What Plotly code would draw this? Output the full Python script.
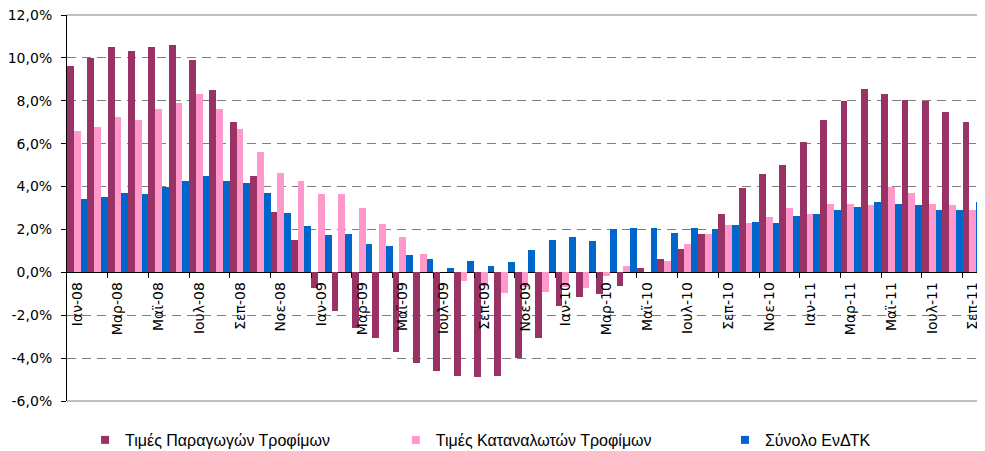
import plotly.graph_objects as go

months = [
    "Ιαν-08", "Φεβ-08", "Μαρ-08", "Απρ-08", "Μαϊ-08", "Ιουν-08", "Ιουλ-08", "Αυγ-08", "Σεπ-08", "Οκτ-08", "Νοε-08", "Δεκ-08",
    "Ιαν-09", "Φεβ-09", "Μαρ-09", "Απρ-09", "Μαϊ-09", "Ιουν-09", "Ιουλ-09", "Αυγ-09", "Σεπ-09", "Οκτ-09", "Νοε-09", "Δεκ-09",
    "Ιαν-10", "Φεβ-10", "Μαρ-10", "Απρ-10", "Μαϊ-10", "Ιουν-10", "Ιουλ-10", "Αυγ-10", "Σεπ-10", "Οκτ-10", "Νοε-10", "Δεκ-10",
    "Ιαν-11", "Φεβ-11", "Μαρ-11", "Απρ-11", "Μαϊ-11", "Ιουν-11", "Ιουλ-11", "Αυγ-11", "Σεπ-11",
]

producer = [
    9.6, 10.0, 10.5, 10.3, 10.5, 10.6, 9.9, 8.5, 7.0, 4.5, 2.8, 1.5,
    -0.75, -1.8, -2.6, -3.05, -3.7, -4.25, -4.6, -4.85, -4.9, -4.85, -4.0, -3.05,
    -1.55, -1.17, -1.0, -0.66, 0.22, 0.64, 1.1, 1.8, 2.7, 3.95, 4.6, 5.0,
    6.1, 7.1, 8.0, 8.55, 8.3, 8.05, 8.0, 7.5, 7.0,
]

consumer = [
    6.6, 6.8, 7.25, 7.1, 7.6, 7.9, 8.3, 7.6, 6.7, 5.6, 4.65, 4.25,
    3.65, 3.65, 3.0, 2.25, 1.65, 0.85, 0.0, -0.42, -0.62, -0.98, -0.7, -0.94,
    -0.7, -0.72, -0.15, 0.31, 0.0, 0.55, 1.34, 1.8, 2.2, 2.28, 2.6, 2.98,
    2.7, 3.2, 3.2, 3.12, 3.96, 3.72, 3.2, 3.12, 2.93,
]

cpi_total = [
    3.4, 3.5, 3.72, 3.63, 3.96, 4.24, 4.47, 4.24, 4.15, 3.68, 2.79, 2.18,
    1.76, 1.81, 1.34, 1.25, 0.83, 0.64, 0.22, 0.55, 0.31, 0.50, 1.06, 1.53,
    1.67, 1.48, 2.04, 2.09, 2.09, 1.85, 2.09, 2.04, 2.23, 2.37, 2.28, 2.65,
    2.70, 2.93, 3.07, 3.26, 3.21, 3.12, 2.93, 2.93, 3.26,
]

series_names = ["Τιμές Παραγωγών Τροφίμων", "Τιμές Καταναλωτών Τροφίμων", "Σύνολο ΕνΔΤΚ"]
series_colors = ["#993366", "#FF99CC", "#0066CC"]

y_tick_vals = [-6, -4, -2, 0, 2, 4, 6, 8, 10, 12]
y_tick_text = ["-6,0%", "-4,0%", "-2,0%", "0,0%", "2,0%", "4,0%", "6,0%", "8,0%", "10,0%", "12,0%"]

label_months = months[::2]
n = len(months)
boundary_ticks = [i + 0.5 for i in range(1, n - 1, 2)]

fig = go.Figure()
for name, vals, col in zip(series_names, [producer, consumer, cpi_total], series_colors):
    fig.add_trace(go.Bar(x=months, y=vals, name=name, marker=dict(color=col, line=dict(width=0)),
                         showlegend=False, hoverinfo="x+y"))

legend_ids = ["legend", "legend2", "legend3"]
for name, col, lg in zip(series_names, series_colors, legend_ids):
    fig.add_trace(go.Scatter(x=[None], y=[None], mode="markers", name=name, xaxis="x2",
                             marker=dict(symbol="square", size=8, color=col), legend=lg))

zero_pos = (0 - (-6)) / (12 - (-6))
leg_font = dict(family="Liberation Sans, Arial, sans-serif", size=16, color="#000000")
leg_common = dict(yanchor="middle", y=-0.101, xanchor="left", font=leg_font,
                  bgcolor="rgba(0,0,0,0)", borderwidth=0, itemwidth=30)

# page body has an 8px default margin, so the figure is sized to fit the window
fig.update_layout(
    width=977, height=443,
    margin=dict(l=59, r=2, t=7, b=50, autoexpand=False),
    paper_bgcolor="white", plot_bgcolor="white",
    template="none",
    barmode="group", bargap=0, bargroupgap=0,
    font=dict(family="DejaVu Sans, Verdana, sans-serif", size=14, color="#000000"),
    xaxis=dict(
        type="category", range=[-0.5, n - 0.5], anchor="free", position=zero_pos,
        tickmode="array", tickvals=label_months, ticktext=label_months, tickangle=-90,
        ticks="", showgrid=False, showline=False, zeroline=False, automargin=False,
        ticklabelstandoff=6, ticklabeloverflow="allow",
        tickfont=dict(family="DejaVu Sans, Verdana, sans-serif", size=14),
    ),
    xaxis2=dict(
        overlaying="x", anchor="free", position=zero_pos, range=[-0.5, n - 0.5],
        tickmode="array", tickvals=boundary_ticks, showticklabels=False,
        ticks="outside", ticklen=5, tickcolor="#000000", tickwidth=1,
        showgrid=False, showline=False, zeroline=False, automargin=False,
    ),
    yaxis=dict(
        range=[-6, 12], tickmode="array", tickvals=y_tick_vals, ticktext=y_tick_text,
        ticks="outside", ticklen=5, tickcolor="#000000",
        showline=True, linecolor="#000000", linewidth=1,
        showgrid=True, gridcolor="#808080", gridwidth=1, griddash="9px,6px",
        zeroline=True, zerolinecolor="#000000", zerolinewidth=1,
        automargin=False, ticklabelstandoff=6, ticklabeloverflow="allow",
        tickfont=dict(family="DejaVu Sans, Verdana, sans-serif", size=14),
    ),
    legend=dict(x=0.0197, **leg_common),
    legend2=dict(x=0.359, **leg_common),
    legend3=dict(x=0.7183, **leg_common),
    shapes=[dict(type="path", xref="x domain", yref="y domain", path="M0,1 L1,1 L1,0 L0,0",
                 line=dict(color="#808080", width=1), layer="above")],
)

fig.write_html("out.html")
